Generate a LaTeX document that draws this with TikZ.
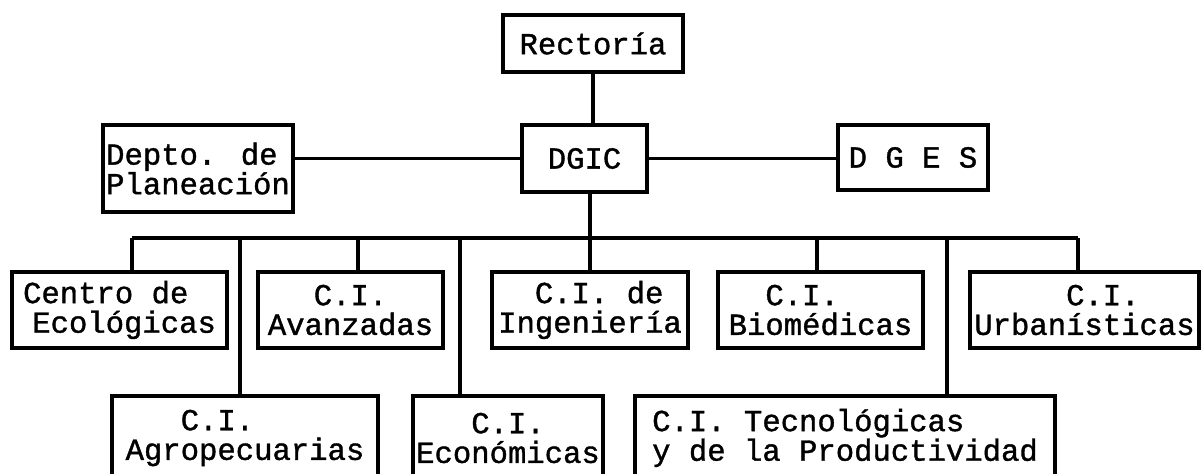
\documentclass[tikz,border=0pt]{standalone}
\usepackage{fontspec}
\setmainfont{Liberation Mono}[FakeBold=1.2]
\begin{document}
\begin{tikzpicture}[x=0.5pt,y=-0.5pt,
    caja/.style={draw,line width=2.3pt,inner sep=1pt,align=center,
      font=\fontsize{15.3}{14.8}\selectfont},
    linea/.style={line width=1.8pt}]
  \clip (0,0) rectangle (1201,474);
  \fill[white] (0,0) rectangle (1201,474);
  % top levels
  \node[caja,minimum width=90pt,minimum height=28.5pt] (rectoria) at (593,43.5) {Rectoría};
  \node[caja,minimum width=62.5pt,minimum height=33.5pt] (dgic) at (584.5,158.5) {DGIC};
  \node[caja,align=left,minimum width=95pt,minimum height=43.5pt] (depto) at (198,168.5) {Depto. de\\Planeación};
  \node[caja,minimum width=75pt,minimum height=32.5pt] (dges) at (913,157.5) {D G E S};
  % first row of centres
  \node[caja,align=left,minimum width=107.5pt,minimum height=38pt] (centro) at (119.5,310) {Centro de\\\hspace*{.3em}Ecológicas};
  \node[caja,minimum width=92.5pt,minimum height=38pt] (avanzadas) at (350.5,310) {C.I.\\Avanzadas};
  \node[caja,align=left,minimum width=98pt,minimum height=38pt] (ingenieria) at (590,310) {~~C.I.~de\\Ingeniería};
  \node[caja,align=left,minimum width=102.5pt,minimum height=38pt] (biomedicas) at (820.5,310) {~~C.I.\\Biomédicas};
  \node[caja,align=left,minimum width=114.5pt,minimum height=38pt] (urbanisticas) at (1084.5,310) {~~~~~C.I.\\Urbanísticas};
  % second row
  \node[caja,align=left,minimum width=133pt,minimum height=42pt] (agro) at (245,438) {~~~C.I.\\Agropecuarias};
  \node[caja,align=left,minimum width=95pt,minimum height=42pt] (economicas) at (508,438) {~~~C.I.\\Económicas};
  \node[caja,align=left,minimum width=210pt,minimum height=42pt] (tecno) at (845,438) {C.I. Tecnológicas\\y de la Productividad};
  % connectors
  \draw[linea] (rectoria.south) -- (rectoria.south |- dgic.north);
  \draw[linea] (dgic.west) -- (dgic.west -| depto.east);
  \draw[linea] (dgic.east) -- (dgic.east -| dges.west);
  \foreach \x/\n in {132/centro,240/agro,358/avanzadas,460/economicas,590/ingenieria,817/biomedicas,947/tecno,1078/urbanisticas}{
    \coordinate (b-\n) at (\x,238);
    \draw[linea] (b-\n) -- (b-\n |- \n.north);
  }
  \draw[linea] (b-centro) -- (b-urbanisticas);
  \draw[linea] (dgic.south -| b-ingenieria) -- (b-ingenieria);
\end{tikzpicture}
\end{document}
